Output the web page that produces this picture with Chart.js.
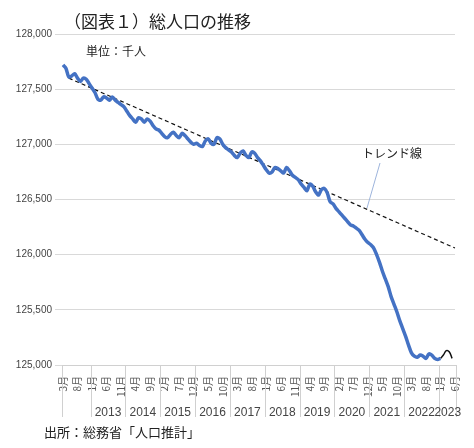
<!DOCTYPE html>
<html>
<head>
<meta charset="utf-8">
<script src="https://cdn.jsdelivr.net/npm/chart.js@4"></script>
<style>
  body { margin: 0; background: #fff; font-family: "Noto Sans CJK JP", sans-serif; }
  #wrap { position: relative; width: 474px; height: 448px; }
  .t { position: absolute; color: #222; }
</style>
</head>
<body>
<div id="wrap">
  <canvas id="c" width="474" height="448"></canvas>
  <div class="t" style="left:64px;top:8px;font-size:17px;">（図表１）総人口の推移</div>
  <div class="t" style="left:86px;top:42px;font-size:12px;">単位：千人</div>
  <div class="t" style="left:362px;top:144px;font-size:12px;">トレンド線</div>
  <div class="t" style="left:44px;top:422px;font-size:13px;">出所：総務省「人口推計」</div>
</div>
<script>
// monthly, 2012-03 .. 2023-06
const years = [2012, 2013, 2014, 2015, 2016, 2017, 2018, 2019, 2020, 2021, 2022, 2023]
const population = [
  // 2012 Mar-Dec
  127720, 127690, 127610, 127620, 127640, 127600, 127570, 127600, 127590, 127550,
  // 2013
  127510, 127470, 127410, 127400, 127430, 127420, 127400, 127430, 127400, 127380, 127360, 127340,
  // 2014
  127300, 127260, 127230, 127200, 127240, 127230, 127200, 127230, 127210, 127170, 127140, 127130,
  // 2015
  127100, 127070, 127060, 127090, 127110, 127080, 127060, 127100, 127080, 127050, 127020, 127000,
  // 2016
  127010, 126990, 126980, 127030, 127050, 127010, 127000, 127060, 127050, 127000, 126970, 126950,
  // 2017
  126930, 126900, 126880, 126920, 126940, 126900, 126880, 126930, 126920, 126880, 126850, 126810,
  // 2018
  126770, 126740, 126750, 126790, 126780, 126760, 126740, 126790, 126760, 126720, 126700, 126680,
  // 2019
  126640, 126610, 126580, 126640, 126620, 126570, 126540, 126590, 126600, 126560, 126480, 126460,
  // 2020
  126420, 126390, 126360, 126330, 126300, 126270, 126260, 126240, 126220, 126180, 126140, 126110,
  // 2021
  126090, 126060, 126000, 125930, 125850, 125780, 125710, 125620, 125550, 125480, 125400, 125330,
  // 2022
  125260, 125180, 125110, 125080, 125070, 125090, 125080, 125060, 125100, 125090, 125060, 125050,
  // 2023 Jan (last blue point)
  125060
]
// newest months (drawn thin, black)
const latest = [125060, 125090, 125130, 125120, 125060]
const trendStart = 127600
const trendEnd = 126060
const yTicks = [125000, 125500, 126000, 126500, 127000, 127500, 128000]

const labels = []
let y = 2012, m = 3
for (let i = 0; i < 136; i++) {
  labels.push(y + "-" + m)
  m++
  if (m > 12) { m = 1; y++ }
}
const n = labels.length
const blue = population.concat(new Array(n - population.length).fill(null))
const black = new Array(population.length - 1).fill(null).concat(latest)
while (black.length < n) black.push(null)
const trend = labels.map((l, i) => i < 2 ? null : trendStart + (trendEnd - trendStart) * (i - 2) / (n - 3))

// year group separators + year labels under the month ticks
const yearPlugin = {
  id: "years",
  afterDraw(chart) {
    const ctx = chart.ctx
    const xs = chart.scales.x
    const area = chart.chartArea
    const step = (xs.getPixelForValue(1) - xs.getPixelForValue(0))
    const edge = i => xs.getPixelForValue(i) - step / 2
    ctx.save()
    ctx.strokeStyle = "#d0d0d0"
    ctx.lineWidth = 1
    const bounds = [0]
    for (let i = 0; i < n; i++) if (labels[i].endsWith("-1")) bounds.push(i)
    bounds.push(n)
    bounds.forEach(b => {
      const x = Math.round(edge(b)) + 0.5
      ctx.beginPath(); ctx.moveTo(x, area.bottom); ctx.lineTo(x, area.bottom + 52); ctx.stroke()
    })
    ctx.fillStyle = "#444"
    ctx.font = "12px 'Liberation Sans', sans-serif"
    ctx.textAlign = "center"
    for (let k = 1; k < bounds.length - 1; k++) {
      const cx = (edge(bounds[k]) + edge(bounds[k + 1])) / 2
      ctx.fillText(String(years[k]), cx, area.bottom + 51)
    }
    ctx.restore()
    // leader line for trend label
    ctx.save()
    ctx.strokeStyle = "#9db4dc"
    ctx.lineWidth = 1
    ctx.beginPath(); ctx.moveTo(380, 163); ctx.lineTo(367, 208); ctx.stroke()
    ctx.restore()
  }
}

new Chart(document.getElementById("c"), {
  type: "line",
  data: {
    labels: labels,
    datasets: [
      { data: blue, borderColor: "#4472c4", borderWidth: 3.5, pointRadius: 0, tension: 0.3 },
      { data: black, borderColor: "#111", borderWidth: 1.5, pointRadius: 0, tension: 0.4 },
      { data: trend, borderColor: "#111", borderWidth: 1.2, borderDash: [4, 3], pointRadius: 0 }
    ]
  },
  options: {
    responsive: false,
    animation: false,
    layout: { padding: { left: 5, right: 19, top: 34, bottom: 31 } },
    plugins: { legend: { display: false }, tooltip: { enabled: false } },
    scales: {
      x: {
        afterFit: s => { s.height = 52 },
        grid: { display: false },
        border: { color: "#d0d0d0" },
        ticks: {
          autoSkip: false,
          maxRotation: 90,
          minRotation: 90,
          color: "#555",
          font: { size: 10, family: "Noto Sans CJK JP" },
          callback: function (v, i) { return i % 5 === 0 ? labels[i].split("-")[1] + "月" : null }
        }
      },
      y: {
        min: 125000,
        max: 128000,
        afterFit: s => { s.width = 58 },
        afterBuildTicks: s => { s.ticks = yTicks.map(v => ({ value: v })) },
        grid: { color: "#d9d9d9" },
        border: { display: false },
        ticks: {
          color: "#444",
          font: { size: 10, family: "Liberation Sans" },
          callback: v => v.toLocaleString("en-US")
        }
      }
    }
  },
  plugins: [yearPlugin]
})
</script>
</body>
</html>
